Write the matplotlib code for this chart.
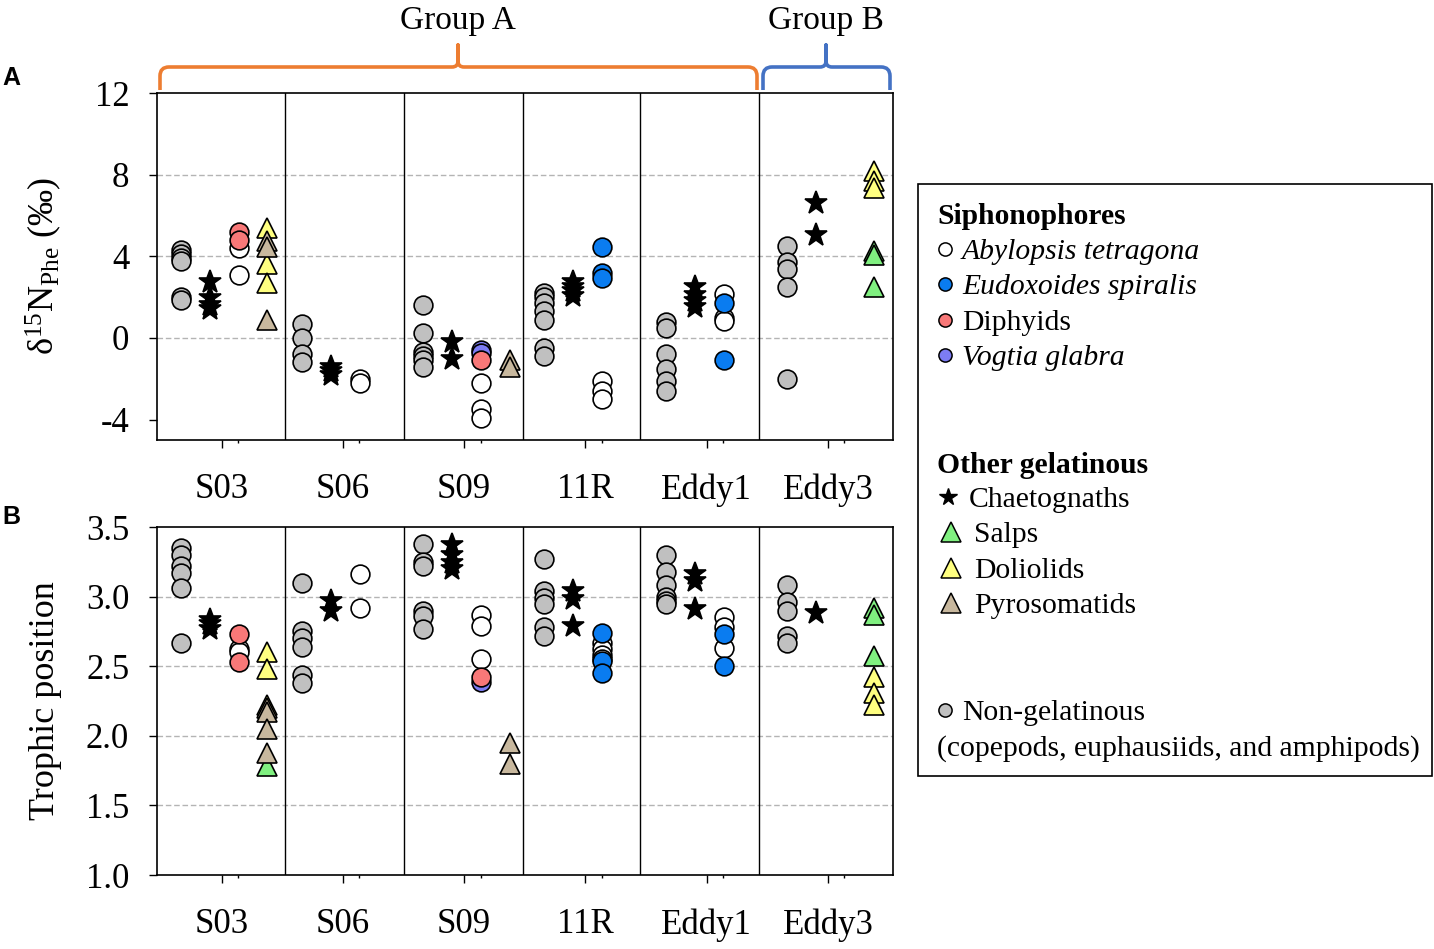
import matplotlib
matplotlib.use('Agg')
import matplotlib.pyplot as plt
from matplotlib.path import Path
from matplotlib.patches import PathPatch, Rectangle

plt.rcParams['font.family'] = ['Liberation Serif', 'DejaVu Serif']
plt.rcParams['axes.unicode_minus'] = False
plt.rcParams['mathtext.fontset'] = 'custom'
plt.rcParams['mathtext.rm'] = 'Liberation Serif'
plt.rcParams['mathtext.it'] = 'Liberation Serif:italic'

sites = ['S03', 'S06', 'S09', '11R', 'Eddy1', 'Eddy3']
separators = [0.523, 1.505, 2.486, 3.45, 4.431]

# A: d15N Phe
a_nongel = [[4.3, 4.1, 3.9, 3.75, 2.0, 1.85],
            [0.7, 0.0, -0.8, -1.2],
            [1.6, 0.25, -0.7, -0.9, -1.1, -1.4],
            [2.2, 2.0, 1.7, 1.3, 0.9, -0.5, -0.9],
            [0.8, 0.5, -0.8, -1.5, -2.1, -2.6],
            [4.5, 3.7, 3.4, 2.5, -2.0]]
a_chaeto = [[2.75, 1.95, 1.6, 1.4], [-1.4, -1.6, -1.8], [-0.2, -1.05],
            [2.75, 2.5, 2.3, 2.05], [2.5, 2.1, 1.8, 1.5], [6.6, 5.05]]
a_abylopsis = [[4.4, 3.1], [-2.0, -2.2], [-2.2, -3.5, -3.9], [-2.1, -2.6, -3.0],
               [2.15, 1.0, 0.85], []]
a_eudox = [[], [], [], [4.45, 3.2, 2.95], [1.7, -1.1], []]
a_diphy = [[5.2, 4.8], [], [-1.1], [], [], []]
a_vogtia = [[], [], [-0.6, -0.75], [], [], []]
a_salps = [[], [], [], [], [], [4.25, 4.05, 2.5]]
a_dolio = [[5.4, 3.6, 2.7], [], [], [], [], [8.2, 7.7, 7.35]]
a_pyro = [[4.75, 4.45, 0.9], [], [-1.1, -1.4], [], [], []]

# B: trophic position
b_nongel = [[3.35, 3.3, 3.22, 3.17, 3.06, 2.67],
            [3.1, 2.75, 2.7, 2.64, 2.44, 2.38],
            [3.38, 3.25, 3.22, 2.9, 2.86, 2.77],
            [3.27, 3.04, 2.99, 2.95, 2.78, 2.72],
            [3.3, 3.18, 3.08, 3.0, 2.97, 2.95],
            [3.08, 2.96, 2.9, 2.72, 2.67]]
b_chaeto = [[2.83, 2.8, 2.77], [2.97, 2.9], [3.37, 3.3, 3.24, 3.2],
            [3.04, 2.98, 2.79], [3.16, 3.11, 2.91], [2.88]]
b_abylopsis = [[2.62, 2.6], [3.16, 2.92], [2.87, 2.79, 2.55],
               [2.67, 2.62, 2.58, 2.55], [2.85, 2.78, 2.63], []]
b_eudox = [[], [], [], [2.74, 2.54, 2.45], [2.73, 2.5], []]
b_diphy = [[2.73, 2.53], [], [2.42], [], [], []]
b_vogtia = [[], [], [2.39], [], [], []]
b_salps = [[1.78], [], [], [], [], [2.92, 2.87, 2.57]]
b_dolio = [[2.6, 2.48, 2.22], [], [], [], [], [2.42, 2.31, 2.22]]
b_pyro = [[2.2, 2.17, 2.05, 1.88], [], [1.95, 1.8], [], [], []]

c_grey = '#c0c0c0'
c_blue = '#0a7cf0'
c_red = '#f87878'
c_purple = '#7c7cf4'
c_green = '#80f080'
c_yellow = '#ffff80'
c_tan = '#c8b89e'

fig = plt.figure(figsize=(14.34, 9.49), dpi=100)
W, H = 1434, 949


def px_axes(l, t, r, b):
    return fig.add_axes([l / W, 1 - b / H, (r - l) / W, (b - t) / H])


def draw(ax, series):
    for vals_by_site, off, mk, ms, fc in series:
        for i, vals in enumerate(vals_by_site):
            if len(vals) == 0:
                continue
            ax.plot([i + off] * len(vals), vals, linestyle='none', marker=mk,
                    ms=ms, mfc=fc, mec='black', mew=1.2, zorder=3)


def style(ax, ylim, yticks, fmt):
    ax.set_xlim(-0.532, 5.536)
    ax.set_ylim(*ylim)
    for s in separators:
        ax.axvline(s, color='black', lw=1.0, zorder=2)
    for v in yticks[1:-1]:
        ax.axhline(v, color='#b4b4b4', lw=1.0, ls=(0, (4, 2)), zorder=1)
    ax.set_yticks(yticks)
    ax.set_yticklabels([fmt % v for v in yticks])
    ax.set_xticks(range(6))
    ax.set_xticklabels(sites)
    ax.set_xticks([i + 0.136 for i in range(6)], minor=True)
    ax.tick_params(axis='both', which='major', labelsize=25, direction='out',
                   length=6, width=1.0)
    ax.tick_params(axis='x', which='major', pad=18)
    ax.tick_params(axis='y', which='major', pad=14)
    ax.tick_params(axis='x', which='minor', length=2.5, width=1.0)
    for sp in ax.spines.values():
        sp.set_linewidth(1.2)


off_ng, off_ch, off_si, off_tr = -0.338, -0.099, 0.14, 0.379

axA = px_axes(157, 93, 893, 440)
style(axA, (-5, 12), [-4, 0, 4, 8, 12], '%d')
draw(axA, [(a_nongel, off_ng, 'o', 13.5, c_grey),
           (a_chaeto, off_ch, '*', 17, 'black'),
           (a_abylopsis, off_si, 'o', 13.5, 'white'),
           (a_vogtia, off_si, 'o', 13.5, c_purple),
           (a_diphy, off_si, 'o', 13.5, c_red),
           (a_eudox, off_si, 'o', 13.5, c_blue),
           (a_dolio, off_tr, '^', 14, c_yellow),
           (a_salps, off_tr, '^', 14, c_green),
           (a_pyro, off_tr, '^', 14, c_tan)])

axB = px_axes(157, 527, 893, 875)
style(axB, (1.0, 3.5), [1.0, 1.5, 2.0, 2.5, 3.0, 3.5], '%.1f')
draw(axB, [(b_nongel, off_ng, 'o', 13.5, c_grey),
           (b_chaeto, off_ch, '*', 17, 'black'),
           (b_abylopsis, off_si, 'o', 13.5, 'white'),
           (b_vogtia, off_si, 'o', 13.5, c_purple),
           (b_diphy, off_si, 'o', 13.5, c_red),
           (b_eudox, off_si, 'o', 13.5, c_blue),
           (b_dolio, off_tr, '^', 14, c_yellow),
           (b_salps, off_tr, '^', 14, c_green),
           (b_pyro, off_tr, '^', 14, c_tan)])

# overlay in pixel coords for braces, labels and legend
ov = fig.add_axes([0, 0, 1, 1], zorder=5)
ov.set_xlim(0, W)
ov.set_ylim(H, 0)
ov.axis('off')
ov.patch.set_alpha(0)


def brace(x0, x1, xm, ybot, ytop, ytip, color, r=9, r2=6):
    verts = [(x0, ybot), (x0, ytop + r), (x0, ytop), (x0 + r, ytop),
             (xm - r2, ytop), (xm, ytop), (xm, ytop - r2), (xm, ytip),
             (xm, ytop - r2), (xm, ytop), (xm + r2, ytop),
             (x1 - r, ytop), (x1, ytop), (x1, ytop + r), (x1, ybot)]
    codes = [Path.MOVETO, Path.LINETO, Path.CURVE3, Path.CURVE3,
             Path.LINETO, Path.CURVE3, Path.CURVE3, Path.LINETO,
             Path.LINETO, Path.CURVE3, Path.CURVE3,
             Path.LINETO, Path.CURVE3, Path.CURVE3, Path.LINETO]
    ov.add_patch(PathPatch(Path(verts, codes), fill=False, edgecolor=color,
                           lw=2.6, capstyle='butt', joinstyle='round'))


brace(160, 757, 458, 90, 67, 45, '#ed7d31')
brace(763, 890, 826, 90, 67, 45, '#4472c4')
ov.text(458, 21, 'Group A', fontsize=24, ha='center', va='center')
ov.text(826, 21, 'Group B', fontsize=24, ha='center', va='center')

ov.text(11, 78, 'A', fontsize=18, fontweight='bold', family='Liberation Sans',
        ha='center', va='center')
ov.text(11, 517, 'B', fontsize=18, fontweight='bold', family='Liberation Sans',
        ha='center', va='center')

ov.text(44, 266, 'δ$^{15}$N$_{\\mathrm{Phe}}$ (‰)', fontsize=26,
        rotation=90, ha='center', va='center')
ov.text(46, 701, 'Trophic position', fontsize=26, rotation=90,
        ha='center', va='center')

# legend
ov.add_patch(Rectangle((918, 184), 514, 592, fill=False, edgecolor='black', lw=1.2))
fs = 21.3
ov.text(937, 213, 'Siphonophores', fontsize=fs, fontweight='bold', va='center_baseline')
leg_circles = [(249, 'white', 'Abylopsis tetragona', 'italic'),
               (284, c_blue, 'Eudoxoides spiralis', 'italic'),
               (320, c_red, 'Diphyids', 'normal'),
               (355, c_purple, 'Vogtia glabra', 'italic'),
               (710, c_grey, 'Non-gelatinous', 'normal')]
for y, fc, lab, st in leg_circles:
    ov.plot(945, y, 'o', ms=9.5, mfc=fc, mec='black', mew=1.1)
    ov.text(962, y, lab, fontsize=fs, style=st, va='center_baseline')
ov.text(937, 462, 'Other gelatinous', fontsize=fs, fontweight='bold', va='center_baseline')
ov.plot(948, 497, '*', ms=13, color='black')
ov.text(969, 497, 'Chaetognaths', fontsize=fs, va='center_baseline')
for y, fc, lab in [(532, c_green, 'Salps'), (568, c_yellow, 'Doliolids'),
                   (603, c_tan, 'Pyrosomatids')]:
    ov.plot(951, y, '^', ms=15, mfc=fc, mec='black', mew=1.1)
    ov.text(974, y, lab, fontsize=fs, va='center_baseline')
ov.text(937, 745, '(copepods, euphausiids, and amphipods)', fontsize=fs,
        va='center_baseline')

plt.savefig('out.png', dpi=100)
